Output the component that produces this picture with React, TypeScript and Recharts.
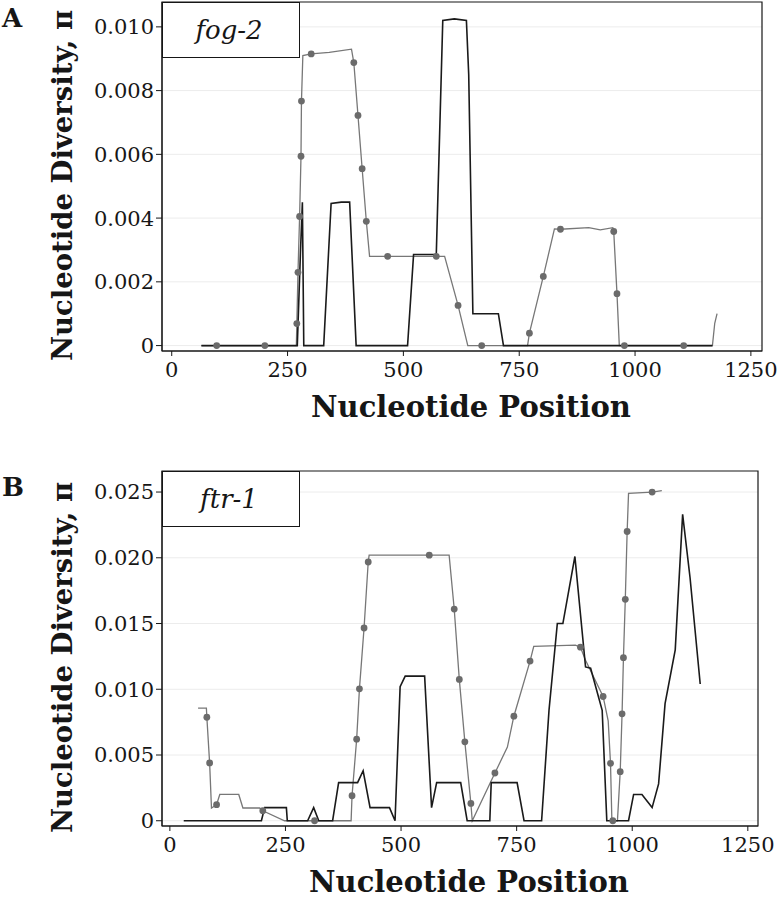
import {
  ComposedChart,
  Line,
  Scatter,
  XAxis,
  YAxis,
  CartesianGrid,
  ReferenceArea,
  Legend,
  Label,
} from "recharts";

const SERIF = "'DejaVu Serif', 'Liberation Serif', serif";
const INK = "#161616";

// fog-2 (panel A)
const fogBlackPos = [64, 269, 271, 278, 282, 285, 328, 344, 366, 384, 398, 509, 522, 571, 585, 610, 636, 641, 650, 705, 716, 1167];
const fogBlackPi = [0, 0, 0, 0.003, 0.0045, 0, 0, 0.00446, 0.0045, 0.0045, 0, 0, 0.00286, 0.00286, 0.0102, 0.01025, 0.0102, 0.0085, 0.001, 0.001, 0, 0];

const fogGreyPos = [64, 97, 201, 269, 270, 272.5, 276, 279, 280, 283, 301, 340, 388, 393, 402, 411, 420, 427, 466, 571, 589, 618, 639, 669, 768, 772, 802, 826, 839, 900, 925, 952, 954, 961, 966, 977, 1105, 1167, 1172, 1177];
const fogGreyPi = [0, 0, 0, 0, 0.00069, 0.0023, 0.00405, 0.00594, 0.00767, 0.0091, 0.00915, 0.0092, 0.0093, 0.00888, 0.00722, 0.00555, 0.0039, 0.0028, 0.0028, 0.0028, 0.0028, 0.00126, 0, 0, 0, 0.00039, 0.00217, 0.00366, 0.00365, 0.0037, 0.00363, 0.0037, 0.00358, 0.00163, 0, 0, 0, 0, 0.0007, 0.001];

const fogDotPos = [97, 201, 270, 272.5, 276, 279, 280, 301, 393, 402, 411, 420, 466, 571, 618, 669, 772, 802, 839, 954, 961, 977, 1105];
const fogDotPi = [0, 0, 0.00069, 0.0023, 0.00405, 0.00594, 0.00767, 0.00915, 0.00888, 0.00722, 0.00555, 0.0039, 0.0028, 0.0028, 0.00126, 0, 0.00039, 0.00217, 0.00365, 0.00358, 0.00163, 0, 0];

// ftr-1 (panel B)
const ftrBlackPos = [30, 198, 205, 252, 254, 298, 311, 322, 352, 365, 406, 418, 433, 475, 487, 498, 509, 551, 566, 577, 629, 643, 692, 695, 751, 766, 804, 820, 838, 850, 876, 899, 910, 935, 945, 992, 1003, 1021, 1043, 1057, 1071, 1093, 1109, 1125, 1147];
const ftrBlackPi = [0, 0, 0.001, 0.001, 0, 0, 0.001, 0, 0, 0.0029, 0.0029, 0.0038, 0.001, 0.001, 0, 0.0102, 0.011, 0.011, 0.001, 0.0029, 0.0029, 0, 0, 0.0029, 0.0029, 0, 0, 0.0084, 0.015, 0.015, 0.0201, 0.0117, 0.0116, 0.0084, 0, 0, 0.002, 0.002, 0.001, 0.0028, 0.0089, 0.013, 0.0233, 0.0185, 0.0104];

const ftrGreyPos = [61, 79, 80, 86, 90, 101, 108, 149, 158, 194, 201, 248, 313, 392, 394, 404, 410, 420, 429, 431, 561, 604, 615, 626, 638, 651, 654, 703, 730, 744, 779, 787, 877, 888, 899, 937, 948, 953, 956, 958, 968, 974, 978, 981, 985, 989, 992, 1043, 1064];
const ftrGreyPi = [0.00856, 0.00856, 0.00787, 0.0044, 0.00097, 0.00122, 0.002, 0.002, 0.00097, 0.00097, 0.00076, 0, 0, 0, 0.0019, 0.0062, 0.01003, 0.01466, 0.01968, 0.0202, 0.0202, 0.0202, 0.0161, 0.01075, 0.006, 0.00132, 0, 0.00363, 0.0056, 0.00795, 0.01214, 0.01326, 0.01335, 0.0132, 0.0122, 0.00945, 0.0076, 0.00437, 0, 0, 0, 0.00373, 0.00813, 0.0124, 0.01684, 0.022, 0.0249, 0.025, 0.0251];

const ftrDotPos = [80, 86, 101, 201, 313, 394, 404, 410, 420, 429, 561, 615, 626, 638, 651, 703, 744, 779, 888, 937, 953, 958, 974, 978, 981, 985, 989, 1043];
const ftrDotPi = [0.00787, 0.0044, 0.00122, 0.00076, 0, 0.0019, 0.0062, 0.01003, 0.01466, 0.01968, 0.0202, 0.0161, 0.01075, 0.006, 0.00132, 0.00363, 0.00795, 0.01214, 0.0132, 0.00945, 0.00437, 0, 0.00373, 0.00813, 0.0124, 0.01684, 0.022, 0.025];

const xTicks = [0, 250, 500, 750, 1000, 1250];
const fogYTicks = [0, 0.002, 0.004, 0.006, 0.008, 0.01];
const ftrYTicks = [0, 0.005, 0.01, 0.015, 0.02, 0.025];

const zip = (pos: number[], pi: number[]) => pos.map((p, i) => ({ pos: p, pi: pi[i] }));

const Dot = (props: any) => <circle cx={props.cx} cy={props.cy} r={3.4} fill="#6b6b6b" />;

interface PanelProps {
  letter: string;
  gene: string;
  black: { pos: number; pi: number }[];
  grey: { pos: number; pi: number }[];
  dots: { pos: number; pi: number }[];
  xDomain: [number, number];
  yDomain: [number, number];
  yTicks: number[];
  height: number;
  margin: { top: number; right: number; bottom: number; left: number };
}

function Panel({ letter, gene, black, grey, dots, xDomain, yDomain, yTicks, height, margin }: PanelProps) {
  return (
    <ComposedChart width={778} height={height} margin={margin}>
      <CartesianGrid horizontal vertical={false} stroke="#ececec" horizontalValues={yTicks} />
      <XAxis
        type="number"
        dataKey="pos"
        domain={xDomain}
        ticks={xTicks}
        allowDataOverflow
        height={60}
        tickSize={5}
        tickMargin={6}
        stroke={INK}
        tick={{ fontSize: 21, fill: INK, fontFamily: SERIF }}
      >
        <Label
          content={({ viewBox }: any) => (
            <text
              x={viewBox.x + viewBox.width / 2 + 9}
              y={viewBox.y + 66}
              textAnchor="middle"
              fontFamily={SERIF}
              fontWeight="bold"
              fontSize={29}
              fill={INK}
            >
              Nucleotide Position
            </text>
          )}
        />
      </XAxis>
      <YAxis
        type="number"
        dataKey="pi"
        domain={yDomain}
        ticks={yTicks}
        allowDataOverflow
        width={72}
        tickSize={6}
        tickMargin={2}
        stroke={INK}
        tickFormatter={(v: number) => (v === 0 ? "0" : v.toFixed(3))}
        tick={{ fontSize: 21, fill: INK, fontFamily: SERIF }}
      >
        <Label
          content={({ viewBox }: any) => {
            const bx = viewBox.x - 18;
            const cy = viewBox.y + viewBox.height / 2 + 9;
            return (
              <g>
                <text
                  x={bx}
                  y={cy}
                  transform={`rotate(-90, ${bx}, ${cy})`}
                  textAnchor="middle"
                  fontFamily={SERIF}
                  fontWeight="bold"
                  fontSize={27.5}
                  fill={INK}
                >
                  Nucleotide Diversity, π
                </text>
                <text
                  x={2}
                  y={viewBox.y + 25}
                  fontFamily={SERIF}
                  fontWeight="bold"
                  fontSize={26}
                  fill={INK}
                >
                  {letter}
                </text>
              </g>
            );
          }}
        />
      </YAxis>
      <ReferenceArea
        x1={xDomain[0]}
        x2={xDomain[1]}
        y1={yDomain[0]}
        y2={yDomain[1]}
        fill="none"
        stroke={INK}
        strokeWidth={1.2}
        ifOverflow="visible"
      />
      <Line data={grey} dataKey="pi" type="linear" stroke="#777777" strokeWidth={1.3} dot={false} isAnimationActive={false} />
      <Line data={black} dataKey="pi" type="linear" stroke="#1a1a1a" strokeWidth={1.6} dot={false} isAnimationActive={false} />
      <Scatter data={dots} dataKey="pi" shape={Dot} isAnimationActive={false} />
      <Legend
        layout="vertical"
        align="center"
        verticalAlign="middle"
        wrapperStyle={{ left: margin.left + 72, top: margin.top, width: 138, height: 56, margin: 0 }}
        content={() => (
          <div
            style={{
              boxSizing: "border-box",
              width: 138,
              height: 56,
              border: `1.2px solid ${INK}`,
              background: "#fff",
              display: "flex",
              alignItems: "center",
              justifyContent: "center",
              fontFamily: SERIF,
              fontStyle: "italic",
              fontSize: 26,
              color: INK,
              paddingRight: 4,
            }}
          >
            {gene}
          </div>
        )}
      />
    </ComposedChart>
  );
}

export default function App() {
  return (
    <div style={{ position: "absolute", left: 0, top: 0, width: 778, height: 899, background: "#fff" }}>
      <div style={{ position: "absolute", left: 0, top: 0 }}>
        <Panel
          letter="A"
          gene="fog-2"
          black={zip(fogBlackPos, fogBlackPi)}
          grey={zip(fogGreyPos, fogGreyPi)}
          dots={zip(fogDotPos, fogDotPi)}
          xDomain={[-21, 1274]}
          yDomain={[-0.00017, 0.01078]}
          yTicks={fogYTicks}
          height={440}
          margin={{ top: 2, right: 16, bottom: 29, left: 90 }}
        />
      </div>
      <div style={{ position: "absolute", left: 0, top: 450 }}>
        <Panel
          letter="B"
          gene="ftr-1"
          black={zip(ftrBlackPos, ftrBlackPi)}
          grey={zip(ftrGreyPos, ftrGreyPi)}
          dots={zip(ftrDotPos, ftrDotPi)}
          xDomain={[-17, 1272]}
          yDomain={[-0.0004, 0.0266]}
          yTicks={ftrYTicks}
          height={449}
          margin={{ top: 21, right: 20, bottom: 13, left: 90 }}
        />
      </div>
    </div>
  );
}
